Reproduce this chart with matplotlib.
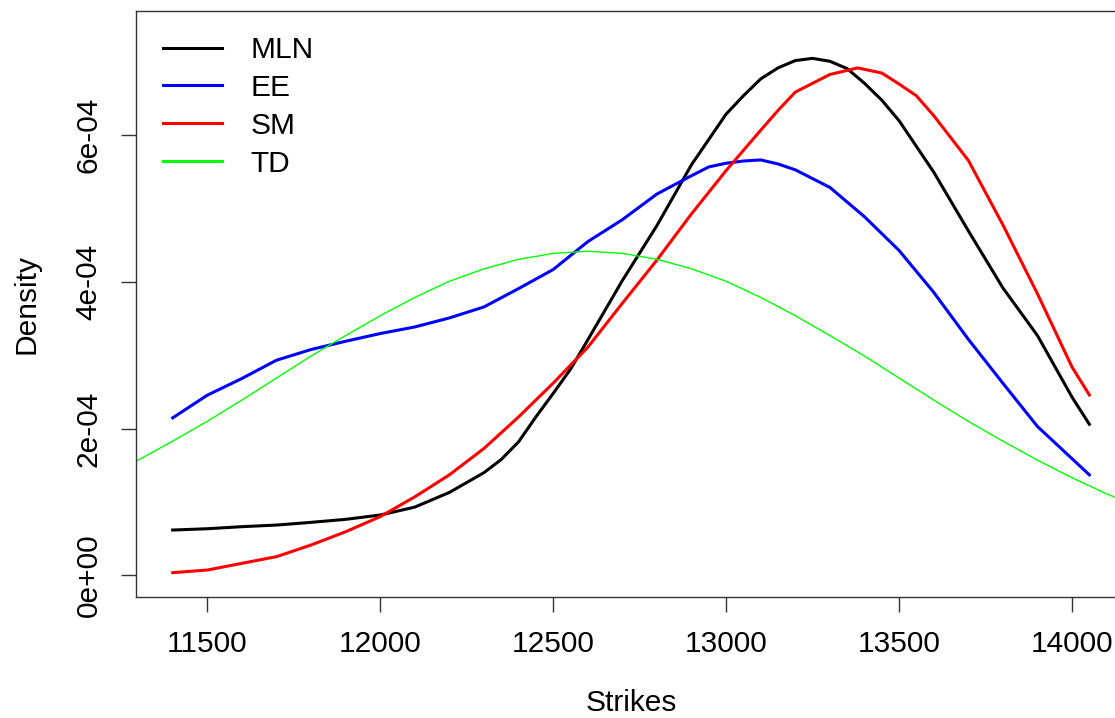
import matplotlib
matplotlib.use("Agg")
import matplotlib.pyplot as plt
from matplotlib.lines import Line2D
import numpy as np

plt.rcParams['font.family'] = ['Liberation Sans', 'DejaVu Sans']

# ---- data (density values in units of 1e-4) ----
mln_x = [11400, 11500, 11600, 11700, 11800, 11900, 12000, 12100, 12200, 12300,
         12350, 12400, 12450, 12500, 12550, 12600, 12700, 12800, 12900, 13000,
         13050, 13100, 13150, 13200, 13250, 13300, 13350, 13400, 13450, 13500,
         13600, 13700, 13800, 13900, 14000, 14050]
mln = [0.617, 0.635, 0.663, 0.685, 0.722, 0.763, 0.822, 0.93, 1.13, 1.40,
       1.58, 1.82, 2.16, 2.48, 2.81, 3.21, 4.02, 4.77, 5.60, 6.29,
       6.54, 6.77, 6.92, 7.02, 7.05, 7.01, 6.91, 6.71, 6.48, 6.20,
       5.50, 4.70, 3.92, 3.27, 2.43, 2.06]

ee_x = [11400, 11500, 11600, 11700, 11800, 11900, 12000, 12100, 12200, 12300,
        12400, 12500, 12600, 12700, 12800, 12900, 12950, 13000, 13050, 13100,
        13150, 13200, 13300, 13400, 13500, 13600, 13700, 13800, 13900, 14000, 14050]
ee = [2.147, 2.456, 2.684, 2.933, 3.079, 3.192, 3.297, 3.387, 3.51, 3.66,
      3.91, 4.17, 4.55, 4.85, 5.20, 5.45, 5.57, 5.62, 5.65, 5.665,
      5.61, 5.53, 5.29, 4.89, 4.43, 3.86, 3.22, 2.62, 2.03, 1.59, 1.37]

sm_x = [11400, 11500, 11600, 11700, 11800, 11900, 12000, 12100, 12200, 12300,
        12400, 12500, 12600, 12700, 12800, 12900, 13000, 13100, 13150, 13200,
        13250, 13300, 13380, 13450, 13500, 13550, 13600, 13700, 13800, 13900,
        14000, 14050]
sm = [0.036, 0.072, 0.163, 0.254, 0.413, 0.594, 0.80, 1.07, 1.37, 1.73,
      2.16, 2.62, 3.11, 3.71, 4.30, 4.93, 5.52, 6.07, 6.34, 6.59,
      6.71, 6.83, 6.92, 6.85, 6.70, 6.54, 6.27, 5.66, 4.78, 3.84,
      2.84, 2.46]

td_x = [11200, 11300, 11400, 11500, 11600, 11700, 11800, 11900, 12000, 12100,
        12200, 12300, 12400, 12500, 12600, 12700, 12800, 12900, 13000, 13100,
        13200, 13300, 13400, 13500, 13600, 13700, 13800, 13900, 14000, 14100, 14200]
td = [1.33, 1.57, 1.83, 2.10, 2.39, 2.69, 2.99, 3.27, 3.54, 3.79,
      4.01, 4.18, 4.31, 4.39, 4.42, 4.39, 4.31, 4.18, 4.01, 3.79,
      3.54, 3.27, 2.99, 2.69, 2.39, 2.10, 1.83, 1.57, 1.33, 1.11, 0.92]

SCALE = 1e-4
series_names = ["MLN", "EE", "SM", "TD"]
series_colors = ["#000000", "#0000FF", "#FF0000", "#00FF00"]

xticks = [11500, 12000, 12500, 13000, 13500, 14000]
yticks = [0, 2e-4, 4e-4, 6e-4]
ytick_labels = ["0e+00", "2e-04", "4e-04", "6e-04"]

# ---- figure ----
W, H = 1115, 718
fig = plt.figure(figsize=(W / 100, H / 100), dpi=100)
L, R, T, B = 136, 1126, 11, 597
ax = fig.add_axes([L / W, (H - B) / H, (R - L) / W, (B - T) / H])

lw_thick = 2.2
ax.plot(mln_x, np.array(mln) * SCALE, color=series_colors[0], lw=lw_thick)
ax.plot(ee_x, np.array(ee) * SCALE, color=series_colors[1], lw=lw_thick)
ax.plot(sm_x, np.array(sm) * SCALE, color=series_colors[2], lw=lw_thick)
ax.plot(td_x, np.array(td) * SCALE, color=series_colors[3], lw=1.0)

ax.set_xlim(11294, 14156)
ax.set_ylim(-2.96e-5, 7.696e-4)

ax.set_xticks(xticks)
ax.set_xticklabels([str(v) for v in xticks])
ax.set_yticks(yticks)
ax.set_yticklabels(ytick_labels, rotation=90, va='center', ha='right')

fs = 21.5
ax.tick_params(axis='both', direction='out', length=11, width=1.0,
               labelsize=fs, color='#333333')
ax.tick_params(axis='x', pad=12.5)
ax.tick_params(axis='y', pad=13)
for sp in ax.spines.values():
    sp.set_linewidth(1.0)
    sp.set_color('#333333')

ax.set_xlabel("Strikes", fontsize=fs, va='center')
ax.xaxis.set_label_coords(0.5, -(703 - B) / (B - T), transform=ax.transAxes)
ax.set_ylabel("Density", fontsize=fs, va='center', ha='center')
ax.yaxis.set_label_coords(-(L - 26) / (R - L), 0.5)

handles = [Line2D([0], [0], color=c, lw=lw_thick) for c in series_colors]
ax.legend(handles, series_names, loc='upper left', frameon=False,
          fontsize=fs, handlelength=1.97, handletextpad=0.97,
          labelspacing=0.33, borderpad=0, borderaxespad=0,
          bbox_to_anchor=(163 / W, (H - 36) / H),
          bbox_transform=fig.transFigure)

fig.savefig("out.png", dpi=100)
